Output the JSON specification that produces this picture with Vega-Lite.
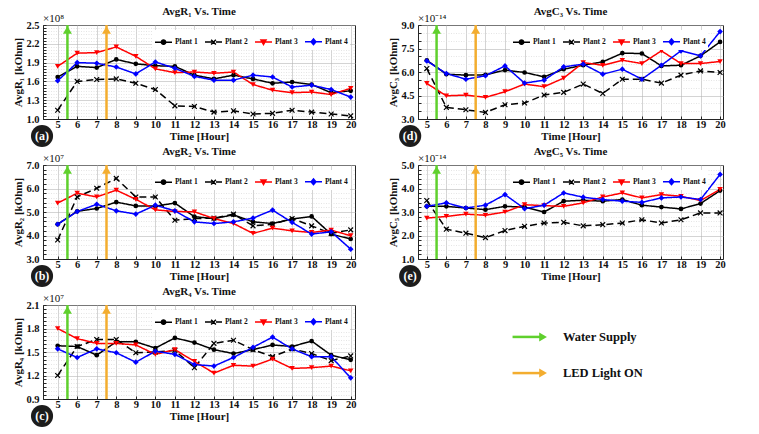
{
  "$schema": "https://vega.github.io/schema/vega-lite/v6.json",
  "background": "white",
  "padding": {"left": 12, "top": 5, "right": 5, "bottom": 3},
  "datasets": {
    "events": [{"event": "Water Supply", "hour": 5.5}, {"event": "LED Light ON", "hour": 7.5}],
    "a": [
      {"hour": 5, "Plant 1": 1.67, "Plant 2": 1.14, "Plant 3": 1.84, "Plant 4": 1.61},
      {"hour": 6, "Plant 1": 1.84, "Plant 2": 1.60, "Plant 3": 2.05, "Plant 4": 1.90},
      {"hour": 7, "Plant 1": 1.82, "Plant 2": 1.63, "Plant 3": 2.06, "Plant 4": 1.89},
      {"hour": 8, "Plant 1": 1.95, "Plant 2": 1.64, "Plant 3": 2.15, "Plant 4": 1.83},
      {"hour": 9, "Plant 1": 1.88, "Plant 2": 1.57, "Plant 3": 2.00, "Plant 4": 1.72},
      {"hour": 10, "Plant 1": 1.85, "Plant 2": 1.47, "Plant 3": 1.80, "Plant 4": 1.91},
      {"hour": 11, "Plant 1": 1.84, "Plant 2": 1.21, "Plant 3": 1.74, "Plant 4": 1.81},
      {"hour": 12, "Plant 1": 1.70, "Plant 2": 1.20, "Plant 3": 1.75, "Plant 4": 1.68},
      {"hour": 13, "Plant 1": 1.64, "Plant 2": 1.11, "Plant 3": 1.73, "Plant 4": 1.62},
      {"hour": 14, "Plant 1": 1.70, "Plant 2": 1.13, "Plant 3": 1.75, "Plant 4": 1.62},
      {"hour": 15, "Plant 1": 1.64, "Plant 2": 1.08, "Plant 3": 1.55, "Plant 4": 1.70},
      {"hour": 16, "Plant 1": 1.57, "Plant 2": 1.09, "Plant 3": 1.46, "Plant 4": 1.67},
      {"hour": 17, "Plant 1": 1.59, "Plant 2": 1.14, "Plant 3": 1.42, "Plant 4": 1.51},
      {"hour": 18, "Plant 1": 1.55, "Plant 2": 1.11, "Plant 3": 1.43, "Plant 4": 1.54},
      {"hour": 19, "Plant 1": 1.42, "Plant 2": 1.08, "Plant 3": 1.39, "Plant 4": 1.47},
      {"hour": 20, "Plant 1": 1.45, "Plant 2": 1.05, "Plant 3": 1.49, "Plant 4": 1.35}
    ],
    "b": [
      {"hour": 5, "Plant 1": 4.48, "Plant 2": 3.81, "Plant 3": 5.38, "Plant 4": 4.48},
      {"hour": 6, "Plant 1": 5.03, "Plant 2": 5.64, "Plant 3": 5.80, "Plant 4": 5.02},
      {"hour": 7, "Plant 1": 5.15, "Plant 2": 6.01, "Plant 3": 5.64, "Plant 4": 5.33},
      {"hour": 8, "Plant 1": 5.42, "Plant 2": 6.43, "Plant 3": 5.93, "Plant 4": 5.05},
      {"hour": 9, "Plant 1": 5.26, "Plant 2": 5.64, "Plant 3": 5.54, "Plant 4": 4.91},
      {"hour": 10, "Plant 1": 5.25, "Plant 2": 5.64, "Plant 3": 5.09, "Plant 4": 5.29},
      {"hour": 11, "Plant 1": 5.38, "Plant 2": 4.65, "Plant 3": 5.02, "Plant 4": 5.05},
      {"hour": 12, "Plant 1": 4.80, "Plant 2": 4.72, "Plant 3": 5.01, "Plant 4": 4.58},
      {"hour": 13, "Plant 1": 4.72, "Plant 2": 4.74, "Plant 3": 4.72, "Plant 4": 4.51},
      {"hour": 14, "Plant 1": 4.88, "Plant 2": 4.91, "Plant 3": 4.51, "Plant 4": 4.58},
      {"hour": 15, "Plant 1": 4.58, "Plant 2": 4.41, "Plant 3": 4.09, "Plant 4": 4.74},
      {"hour": 16, "Plant 1": 4.51, "Plant 2": 4.48, "Plant 3": 4.31, "Plant 4": 5.08},
      {"hour": 17, "Plant 1": 4.70, "Plant 2": 4.72, "Plant 3": 4.20, "Plant 4": 4.56},
      {"hour": 18, "Plant 1": 4.81, "Plant 2": 4.41, "Plant 3": 4.13, "Plant 4": 4.06},
      {"hour": 19, "Plant 1": 4.06, "Plant 2": 4.09, "Plant 3": 4.23, "Plant 4": 4.16},
      {"hour": 20, "Plant 1": 3.85, "Plant 2": 4.24, "Plant 3": 3.99, "Plant 4": 3.42}
    ],
    "c": [
      {"hour": 5, "Plant 1": 1.58, "Plant 2": 1.20, "Plant 3": 1.80, "Plant 4": 1.54},
      {"hour": 6, "Plant 1": 1.57, "Plant 2": 1.57, "Plant 3": 1.67, "Plant 4": 1.43},
      {"hour": 7, "Plant 1": 1.46, "Plant 2": 1.66, "Plant 3": 1.61, "Plant 4": 1.54},
      {"hour": 8, "Plant 1": 1.63, "Plant 2": 1.66, "Plant 3": 1.61, "Plant 4": 1.49},
      {"hour": 9, "Plant 1": 1.63, "Plant 2": 1.49, "Plant 3": 1.59, "Plant 4": 1.37},
      {"hour": 10, "Plant 1": 1.55, "Plant 2": 1.50, "Plant 3": 1.47, "Plant 4": 1.51},
      {"hour": 11, "Plant 1": 1.68, "Plant 2": 1.52, "Plant 3": 1.53, "Plant 4": 1.47},
      {"hour": 12, "Plant 1": 1.62, "Plant 2": 1.30, "Plant 3": 1.38, "Plant 4": 1.34},
      {"hour": 13, "Plant 1": 1.53, "Plant 2": 1.61, "Plant 3": 1.23, "Plant 4": 1.32},
      {"hour": 14, "Plant 1": 1.48, "Plant 2": 1.65, "Plant 3": 1.33, "Plant 4": 1.43},
      {"hour": 15, "Plant 1": 1.53, "Plant 2": 1.53, "Plant 3": 1.32, "Plant 4": 1.56},
      {"hour": 16, "Plant 1": 1.59, "Plant 2": 1.44, "Plant 3": 1.41, "Plant 4": 1.69},
      {"hour": 17, "Plant 1": 1.57, "Plant 2": 1.54, "Plant 3": 1.29, "Plant 4": 1.54},
      {"hour": 18, "Plant 1": 1.64, "Plant 2": 1.48, "Plant 3": 1.30, "Plant 4": 1.44},
      {"hour": 19, "Plant 1": 1.46, "Plant 2": 1.39, "Plant 3": 1.32, "Plant 4": 1.44},
      {"hour": 20, "Plant 1": 1.40, "Plant 2": 1.45, "Plant 3": 1.26, "Plant 4": 1.17}
    ],
    "d": [
      {"hour": 5, "Plant 1": 6.75, "Plant 2": 6.22, "Plant 3": 5.27, "Plant 4": 6.71},
      {"hour": 6, "Plant 1": 5.86, "Plant 2": 3.74, "Plant 3": 4.48, "Plant 4": 5.90},
      {"hour": 7, "Plant 1": 5.80, "Plant 2": 3.59, "Plant 3": 4.53, "Plant 4": 5.54},
      {"hour": 8, "Plant 1": 5.82, "Plant 2": 3.42, "Plant 3": 4.38, "Plant 4": 5.76},
      {"hour": 9, "Plant 1": 6.12, "Plant 2": 3.91, "Plant 3": 4.74, "Plant 4": 6.39},
      {"hour": 10, "Plant 1": 5.97, "Plant 2": 4.02, "Plant 3": 5.23, "Plant 4": 5.29},
      {"hour": 11, "Plant 1": 5.69, "Plant 2": 4.53, "Plant 3": 5.06, "Plant 4": 5.48},
      {"hour": 12, "Plant 1": 6.18, "Plant 2": 4.70, "Plant 3": 5.61, "Plant 4": 6.33},
      {"hour": 13, "Plant 1": 6.43, "Plant 2": 5.23, "Plant 3": 6.60, "Plant 4": 6.50},
      {"hour": 14, "Plant 1": 6.65, "Plant 2": 4.63, "Plant 3": 6.43, "Plant 4": 5.86},
      {"hour": 15, "Plant 1": 7.20, "Plant 2": 5.54, "Plant 3": 6.75, "Plant 4": 6.18},
      {"hour": 16, "Plant 1": 7.18, "Plant 2": 5.54, "Plant 3": 6.54, "Plant 4": 5.54},
      {"hour": 17, "Plant 1": 6.39, "Plant 2": 5.29, "Plant 3": 7.35, "Plant 4": 6.43},
      {"hour": 18, "Plant 1": 6.43, "Plant 2": 5.80, "Plant 3": 6.54, "Plant 4": 7.35},
      {"hour": 19, "Plant 1": 7.03, "Plant 2": 6.07, "Plant 3": 6.54, "Plant 4": 7.03},
      {"hour": 20, "Plant 1": 7.92, "Plant 2": 5.97, "Plant 3": 6.67, "Plant 4": 8.58}
    ],
    "e": [
      {"hour": 5, "Plant 1": 3.24, "Plant 2": 3.49, "Plant 3": 2.74, "Plant 4": 3.24},
      {"hour": 6, "Plant 1": 3.24, "Plant 2": 2.27, "Plant 3": 2.81, "Plant 4": 3.39},
      {"hour": 7, "Plant 1": 3.17, "Plant 2": 2.10, "Plant 3": 2.91, "Plant 4": 3.17},
      {"hour": 8, "Plant 1": 3.10, "Plant 2": 1.91, "Plant 3": 2.86, "Plant 4": 3.29},
      {"hour": 9, "Plant 1": 3.24, "Plant 2": 2.21, "Plant 3": 3.00, "Plant 4": 3.74},
      {"hour": 10, "Plant 1": 3.21, "Plant 2": 2.39, "Plant 3": 3.31, "Plant 4": 3.14},
      {"hour": 11, "Plant 1": 3.00, "Plant 2": 2.53, "Plant 3": 3.27, "Plant 4": 3.29},
      {"hour": 12, "Plant 1": 3.46, "Plant 2": 2.56, "Plant 3": 3.24, "Plant 4": 3.81},
      {"hour": 13, "Plant 1": 3.50, "Plant 2": 2.41, "Plant 3": 3.39, "Plant 4": 3.63},
      {"hour": 14, "Plant 1": 3.46, "Plant 2": 2.46, "Plant 3": 3.64, "Plant 4": 3.53},
      {"hour": 15, "Plant 1": 3.53, "Plant 2": 2.53, "Plant 3": 3.81, "Plant 4": 3.46},
      {"hour": 16, "Plant 1": 3.29, "Plant 2": 2.67, "Plant 3": 3.60, "Plant 4": 3.41},
      {"hour": 17, "Plant 1": 3.21, "Plant 2": 2.53, "Plant 3": 3.74, "Plant 4": 3.60},
      {"hour": 18, "Plant 1": 3.13, "Plant 2": 2.67, "Plant 3": 3.67, "Plant 4": 3.64},
      {"hour": 19, "Plant 1": 3.36, "Plant 2": 2.96, "Plant 3": 3.49, "Plant 4": 3.53},
      {"hour": 20, "Plant 1": 3.91, "Plant 2": 2.96, "Plant 3": 3.96, "Plant 4": 4.60}
    ]
  },
  "columns": 2,
  "spacing": {"row": -3, "column": 30},
  "concat": [
    {
      "width": 312, "height": 94,
      "title": {"text": "AvgR₁ Vs. Time"},
      "layer": [
        {"data": {"name": "a"}, "transform": [{"fold": ["Plant 1", "Plant 2", "Plant 3", "Plant 4"], "as": ["plant", "value"]}],
         "mark": {"type": "line", "strokeWidth": 1.5},
         "encoding": {
           "x": {"field": "hour", "type": "quantitative", "title": "Time [Hour]", "scale": {"domain": [4.25, 20.22], "nice": false, "zero": false},
                 "axis": {"tickCount": 80, "format": "d", "labelExpr": "datum.value % 1 === 0 ? datum.label : ''",
                          "gridColor": {"condition": {"test": "datum.value % 1 === 0", "value": "#b5b5b5"}, "value": "#dadada"},
                          "gridDash": {"condition": {"test": "datum.value % 1 === 0", "value": [1, 0]}, "value": [1, 1.5]}}},
           "y": {"field": "value", "type": "quantitative", "title": "AvgR₁ [kOhm]", "scale": {"domain": [1.0, 2.5], "nice": false, "zero": false},
                 "axis": {"tickCount": 30, "format": ".1f", "labelExpr": "round(datum.value*100) % 30 === 10 ? datum.label : ''",
                          "gridColor": {"condition": {"test": "round(datum.value*100) % 30 === 10", "value": "#b5b5b5"}, "value": "#dadada"},
                          "gridDash": {"condition": {"test": "round(datum.value*100) % 30 === 10", "value": [1, 0]}, "value": [1, 1.5]}}},
           "stroke": {"field": "plant", "type": "nominal", "scale": {"domain": ["Plant 1", "Plant 2", "Plant 3", "Plant 4"], "range": ["#000000", "#000000", "#ff0000", "#0000ff"]},
                      "legend": {"title": null, "orient": "top-right", "offset": 5, "encode": {"symbols": {"update": {
                        "shape": {"signal": "datum.value === 'Plant 1' ? 'M-1,0L1,0M-0.25,0A0.25,0.25,0,1,1,0.25,0A0.25,0.25,0,1,1,-0.25,0Z' : datum.value === 'Plant 2' ? 'M-1,0L1,0M-0.28,-0.28L0.28,0.28M-0.28,0.28L0.28,-0.28' : datum.value === 'Plant 3' ? 'M-1,0L1,0M-0.3,-0.24L0.3,-0.24L0,0.3Z' : 'M-1,0L1,0M0,-0.34L0.28,0L0,0.34L-0.28,0Z'"},
                        "fill": {"signal": "datum.value === 'Plant 3' ? '#ff0000' : datum.value === 'Plant 4' ? '#0000ff' : '#000000'"}}}}}},
           "strokeDash": {"field": "plant", "type": "nominal", "scale": {"domain": ["Plant 1", "Plant 2", "Plant 3", "Plant 4"], "range": [[1, 0], [7, 4], [1, 0], [1, 0]]},
                      "legend": {"title": null, "orient": "top-right", "offset": 5}}
         }},
        {"data": {"name": "a"}, "mark": {"type": "point", "shape": "circle", "filled": true, "size": 22, "color": "#000000", "opacity": 1},
         "encoding": {"x": {"field": "hour", "type": "quantitative", "title": "Time [Hour]"}, "y": {"field": "Plant 1", "type": "quantitative", "title": "AvgR₁ [kOhm]"}}},
        {"data": {"name": "a"}, "mark": {"type": "point", "shape": "M-1,-0.7L-0.7,-1L0,-0.3L0.7,-1L1,-0.7L0.3,0L1,0.7L0.7,1L0,0.3L-0.7,1L-1,0.7L-0.3,0Z", "filled": true, "size": 32, "color": "#000000", "opacity": 1},
         "encoding": {"x": {"field": "hour", "type": "quantitative", "title": "Time [Hour]"}, "y": {"field": "Plant 2", "type": "quantitative", "title": "AvgR₁ [kOhm]"}}},
        {"data": {"name": "a"}, "mark": {"type": "point", "shape": "triangle-down", "filled": true, "size": 30, "color": "#ff0000", "opacity": 1},
         "encoding": {"x": {"field": "hour", "type": "quantitative", "title": "Time [Hour]"}, "y": {"field": "Plant 3", "type": "quantitative", "title": "AvgR₁ [kOhm]"}}},
        {"data": {"name": "a"}, "mark": {"type": "point", "shape": "diamond", "filled": true, "size": 32, "color": "#0000ff", "opacity": 1},
         "encoding": {"x": {"field": "hour", "type": "quantitative", "title": "Time [Hour]"}, "y": {"field": "Plant 4", "type": "quantitative", "title": "AvgR₁ [kOhm]"}}},
        {"data": {"name": "events"}, "mark": {"type": "rule", "strokeWidth": 2.5},
         "encoding": {"x": {"field": "hour", "type": "quantitative", "title": "Time [Hour]"},
                      "color": {"field": "event", "type": "nominal", "scale": {"domain": ["Water Supply", "LED Light ON"], "range": ["#5fd02d", "#f3ad2f"]}, "legend": null}}},
        {"data": {"name": "events"}, "mark": {"type": "point", "shape": "triangle-up", "filled": true, "size": 80, "opacity": 1, "yOffset": 5},
         "encoding": {"x": {"field": "hour", "type": "quantitative", "title": "Time [Hour]"}, "y": {"datum": 2.5},
                      "color": {"field": "event", "type": "nominal", "legend": null}}},
        {"data": {"values": [{"label": "×10⁸"}]}, "mark": {"type": "text", "align": "left", "baseline": "bottom", "dy": -1, "fontSize": 11, "color": "#111"},
         "encoding": {"x": {"datum": 4.25}, "y": {"datum": 2.5}, "text": {"field": "label"}}},
        {"data": {"values": [{"label": "(a)"}]}, "mark": {"type": "point", "shape": "circle", "filled": true, "size": 490, "opacity": 1, "color": "#1c1c1c", "yOffset": 17},
         "encoding": {"x": {"datum": 4.2}, "y": {"datum": 1.0}}},
        {"data": {"values": [{"label": "(a)"}]}, "mark": {"type": "text", "color": "white", "fontSize": 12, "fontWeight": "bold", "baseline": "middle", "dy": 17},
         "encoding": {"x": {"datum": 4.2}, "y": {"datum": 1.0}, "text": {"field": "label"}}}
      ]
    },
    {
      "width": 305, "height": 94,
      "title": {"text": "AvgC₃ Vs. Time"},
      "layer": [
        {"data": {"name": "d"}, "transform": [{"fold": ["Plant 1", "Plant 2", "Plant 3", "Plant 4"], "as": ["plant", "value"]}],
         "mark": {"type": "line", "strokeWidth": 1.5},
         "encoding": {
           "x": {"field": "hour", "type": "quantitative", "title": "Time [Hour]", "scale": {"domain": [4.55, 20.15], "nice": false, "zero": false},
                 "axis": {"tickCount": 80, "format": "d", "labelExpr": "datum.value % 1 === 0 ? datum.label : ''",
                          "gridColor": {"condition": {"test": "datum.value % 1 === 0", "value": "#b5b5b5"}, "value": "#dadada"},
                          "gridDash": {"condition": {"test": "datum.value % 1 === 0", "value": [1, 0]}, "value": [1, 1.5]}}},
           "y": {"field": "value", "type": "quantitative", "title": "AvgC₃ [kOhm]", "scale": {"domain": [3.0, 9.0], "nice": false, "zero": false},
                 "axis": {"tickCount": 12, "format": ".1f", "labelExpr": "round(datum.value*10) % 15 === 0 ? datum.label : ''",
                          "gridColor": {"condition": {"test": "round(datum.value*10) % 15 === 0", "value": "#b5b5b5"}, "value": "#dadada"},
                          "gridDash": {"condition": {"test": "round(datum.value*10) % 15 === 0", "value": [1, 0]}, "value": [1, 1.5]}}},
           "stroke": {"field": "plant", "type": "nominal", "scale": {"domain": ["Plant 1", "Plant 2", "Plant 3", "Plant 4"], "range": ["#000000", "#000000", "#ff0000", "#0000ff"]},
                      "legend": {"title": null, "orient": "none", "legendX": 92, "legendY": 5, "encode": {"symbols": {"update": {
                        "shape": {"signal": "datum.value === 'Plant 1' ? 'M-1,0L1,0M-0.25,0A0.25,0.25,0,1,1,0.25,0A0.25,0.25,0,1,1,-0.25,0Z' : datum.value === 'Plant 2' ? 'M-1,0L1,0M-0.28,-0.28L0.28,0.28M-0.28,0.28L0.28,-0.28' : datum.value === 'Plant 3' ? 'M-1,0L1,0M-0.3,-0.24L0.3,-0.24L0,0.3Z' : 'M-1,0L1,0M0,-0.34L0.28,0L0,0.34L-0.28,0Z'"},
                        "fill": {"signal": "datum.value === 'Plant 3' ? '#ff0000' : datum.value === 'Plant 4' ? '#0000ff' : '#000000'"}}}}}},
           "strokeDash": {"field": "plant", "type": "nominal", "scale": {"domain": ["Plant 1", "Plant 2", "Plant 3", "Plant 4"], "range": [[1, 0], [7, 4], [1, 0], [1, 0]]},
                      "legend": {"title": null, "orient": "none", "legendX": 92, "legendY": 5}}
         }},
        {"data": {"name": "d"}, "mark": {"type": "point", "shape": "circle", "filled": true, "size": 22, "color": "#000000", "opacity": 1},
         "encoding": {"x": {"field": "hour", "type": "quantitative", "title": "Time [Hour]"}, "y": {"field": "Plant 1", "type": "quantitative", "title": "AvgC₃ [kOhm]"}}},
        {"data": {"name": "d"}, "mark": {"type": "point", "shape": "M-1,-0.7L-0.7,-1L0,-0.3L0.7,-1L1,-0.7L0.3,0L1,0.7L0.7,1L0,0.3L-0.7,1L-1,0.7L-0.3,0Z", "filled": true, "size": 32, "color": "#000000", "opacity": 1},
         "encoding": {"x": {"field": "hour", "type": "quantitative", "title": "Time [Hour]"}, "y": {"field": "Plant 2", "type": "quantitative", "title": "AvgC₃ [kOhm]"}}},
        {"data": {"name": "d"}, "mark": {"type": "point", "shape": "triangle-down", "filled": true, "size": 30, "color": "#ff0000", "opacity": 1},
         "encoding": {"x": {"field": "hour", "type": "quantitative", "title": "Time [Hour]"}, "y": {"field": "Plant 3", "type": "quantitative", "title": "AvgC₃ [kOhm]"}}},
        {"data": {"name": "d"}, "mark": {"type": "point", "shape": "diamond", "filled": true, "size": 32, "color": "#0000ff", "opacity": 1},
         "encoding": {"x": {"field": "hour", "type": "quantitative", "title": "Time [Hour]"}, "y": {"field": "Plant 4", "type": "quantitative", "title": "AvgC₃ [kOhm]"}}},
        {"data": {"name": "events"}, "mark": {"type": "rule", "strokeWidth": 2.5},
         "encoding": {"x": {"field": "hour", "type": "quantitative", "title": "Time [Hour]"},
                      "color": {"field": "event", "type": "nominal", "scale": {"domain": ["Water Supply", "LED Light ON"], "range": ["#5fd02d", "#f3ad2f"]}, "legend": null}}},
        {"data": {"name": "events"}, "mark": {"type": "point", "shape": "triangle-up", "filled": true, "size": 80, "opacity": 1, "yOffset": 5},
         "encoding": {"x": {"field": "hour", "type": "quantitative", "title": "Time [Hour]"}, "y": {"datum": 9.0},
                      "color": {"field": "event", "type": "nominal", "legend": null}}},
        {"data": {"values": [{"label": "×10⁻¹⁴"}]}, "mark": {"type": "text", "align": "left", "baseline": "bottom", "dy": -1, "fontSize": 11, "color": "#111"},
         "encoding": {"x": {"datum": 4.55}, "y": {"datum": 9.0}, "text": {"field": "label"}}},
        {"data": {"values": [{"label": "(d)"}]}, "mark": {"type": "point", "shape": "circle", "filled": true, "size": 490, "opacity": 1, "color": "#1c1c1c", "yOffset": 17},
         "encoding": {"x": {"datum": 4.15}, "y": {"datum": 3.0}}},
        {"data": {"values": [{"label": "(d)"}]}, "mark": {"type": "text", "color": "white", "fontSize": 12, "fontWeight": "bold", "baseline": "middle", "dy": 17},
         "encoding": {"x": {"datum": 4.15}, "y": {"datum": 3.0}, "text": {"field": "label"}}}
      ]
    },
    {
      "width": 312, "height": 94,
      "title": {"text": "AvgR₂ Vs. Time"},
      "layer": [
        {"data": {"name": "b"}, "transform": [{"fold": ["Plant 1", "Plant 2", "Plant 3", "Plant 4"], "as": ["plant", "value"]}],
         "mark": {"type": "line", "strokeWidth": 1.5},
         "encoding": {
           "x": {"field": "hour", "type": "quantitative", "title": "Time [Hour]", "scale": {"domain": [4.25, 20.22], "nice": false, "zero": false},
                 "axis": {"tickCount": 80, "format": "d", "labelExpr": "datum.value % 1 === 0 ? datum.label : ''",
                          "gridColor": {"condition": {"test": "datum.value % 1 === 0", "value": "#b5b5b5"}, "value": "#dadada"},
                          "gridDash": {"condition": {"test": "datum.value % 1 === 0", "value": [1, 0]}, "value": [1, 1.5]}}},
           "y": {"field": "value", "type": "quantitative", "title": "AvgR₂ [kOhm]", "scale": {"domain": [3.0, 7.0], "nice": false, "zero": false},
                 "axis": {"tickCount": 20, "format": ".1f", "labelExpr": "round(datum.value*10) % 10 === 0 ? datum.label : ''",
                          "gridColor": {"condition": {"test": "round(datum.value*10) % 10 === 0", "value": "#b5b5b5"}, "value": "#dadada"},
                          "gridDash": {"condition": {"test": "round(datum.value*10) % 10 === 0", "value": [1, 0]}, "value": [1, 1.5]}}},
           "stroke": {"field": "plant", "type": "nominal", "scale": {"domain": ["Plant 1", "Plant 2", "Plant 3", "Plant 4"], "range": ["#000000", "#000000", "#ff0000", "#0000ff"]},
                      "legend": {"title": null, "orient": "top-right", "offset": 5, "encode": {"symbols": {"update": {
                        "shape": {"signal": "datum.value === 'Plant 1' ? 'M-1,0L1,0M-0.25,0A0.25,0.25,0,1,1,0.25,0A0.25,0.25,0,1,1,-0.25,0Z' : datum.value === 'Plant 2' ? 'M-1,0L1,0M-0.28,-0.28L0.28,0.28M-0.28,0.28L0.28,-0.28' : datum.value === 'Plant 3' ? 'M-1,0L1,0M-0.3,-0.24L0.3,-0.24L0,0.3Z' : 'M-1,0L1,0M0,-0.34L0.28,0L0,0.34L-0.28,0Z'"},
                        "fill": {"signal": "datum.value === 'Plant 3' ? '#ff0000' : datum.value === 'Plant 4' ? '#0000ff' : '#000000'"}}}}}},
           "strokeDash": {"field": "plant", "type": "nominal", "scale": {"domain": ["Plant 1", "Plant 2", "Plant 3", "Plant 4"], "range": [[1, 0], [7, 4], [1, 0], [1, 0]]},
                      "legend": {"title": null, "orient": "top-right", "offset": 5}}
         }},
        {"data": {"name": "b"}, "mark": {"type": "point", "shape": "circle", "filled": true, "size": 22, "color": "#000000", "opacity": 1},
         "encoding": {"x": {"field": "hour", "type": "quantitative", "title": "Time [Hour]"}, "y": {"field": "Plant 1", "type": "quantitative", "title": "AvgR₂ [kOhm]"}}},
        {"data": {"name": "b"}, "mark": {"type": "point", "shape": "M-1,-0.7L-0.7,-1L0,-0.3L0.7,-1L1,-0.7L0.3,0L1,0.7L0.7,1L0,0.3L-0.7,1L-1,0.7L-0.3,0Z", "filled": true, "size": 32, "color": "#000000", "opacity": 1},
         "encoding": {"x": {"field": "hour", "type": "quantitative", "title": "Time [Hour]"}, "y": {"field": "Plant 2", "type": "quantitative", "title": "AvgR₂ [kOhm]"}}},
        {"data": {"name": "b"}, "mark": {"type": "point", "shape": "triangle-down", "filled": true, "size": 30, "color": "#ff0000", "opacity": 1},
         "encoding": {"x": {"field": "hour", "type": "quantitative", "title": "Time [Hour]"}, "y": {"field": "Plant 3", "type": "quantitative", "title": "AvgR₂ [kOhm]"}}},
        {"data": {"name": "b"}, "mark": {"type": "point", "shape": "diamond", "filled": true, "size": 32, "color": "#0000ff", "opacity": 1},
         "encoding": {"x": {"field": "hour", "type": "quantitative", "title": "Time [Hour]"}, "y": {"field": "Plant 4", "type": "quantitative", "title": "AvgR₂ [kOhm]"}}},
        {"data": {"name": "events"}, "mark": {"type": "rule", "strokeWidth": 2.5},
         "encoding": {"x": {"field": "hour", "type": "quantitative", "title": "Time [Hour]"},
                      "color": {"field": "event", "type": "nominal", "scale": {"domain": ["Water Supply", "LED Light ON"], "range": ["#5fd02d", "#f3ad2f"]}, "legend": null}}},
        {"data": {"name": "events"}, "mark": {"type": "point", "shape": "triangle-up", "filled": true, "size": 80, "opacity": 1, "yOffset": 5},
         "encoding": {"x": {"field": "hour", "type": "quantitative", "title": "Time [Hour]"}, "y": {"datum": 7.0},
                      "color": {"field": "event", "type": "nominal", "legend": null}}},
        {"data": {"values": [{"label": "×10⁷"}]}, "mark": {"type": "text", "align": "left", "baseline": "bottom", "dy": -1, "fontSize": 11, "color": "#111"},
         "encoding": {"x": {"datum": 4.25}, "y": {"datum": 7.0}, "text": {"field": "label"}}},
        {"data": {"values": [{"label": "(b)"}]}, "mark": {"type": "point", "shape": "circle", "filled": true, "size": 490, "opacity": 1, "color": "#1c1c1c", "yOffset": 17},
         "encoding": {"x": {"datum": 4.2}, "y": {"datum": 3.0}}},
        {"data": {"values": [{"label": "(b)"}]}, "mark": {"type": "text", "color": "white", "fontSize": 12, "fontWeight": "bold", "baseline": "middle", "dy": 17},
         "encoding": {"x": {"datum": 4.2}, "y": {"datum": 3.0}, "text": {"field": "label"}}}
      ]
    },
    {
      "width": 305, "height": 94,
      "title": {"text": "AvgC₅ Vs. Time"},
      "layer": [
        {"data": {"name": "e"}, "transform": [{"fold": ["Plant 1", "Plant 2", "Plant 3", "Plant 4"], "as": ["plant", "value"]}],
         "mark": {"type": "line", "strokeWidth": 1.5},
         "encoding": {
           "x": {"field": "hour", "type": "quantitative", "title": "Time [Hour]", "scale": {"domain": [4.55, 20.15], "nice": false, "zero": false},
                 "axis": {"tickCount": 80, "format": "d", "labelExpr": "datum.value % 1 === 0 ? datum.label : ''",
                          "gridColor": {"condition": {"test": "datum.value % 1 === 0", "value": "#b5b5b5"}, "value": "#dadada"},
                          "gridDash": {"condition": {"test": "datum.value % 1 === 0", "value": [1, 0]}, "value": [1, 1.5]}}},
           "y": {"field": "value", "type": "quantitative", "title": "AvgC₅ [kOhm]", "scale": {"domain": [1.0, 5.0], "nice": false, "zero": false},
                 "axis": {"tickCount": 20, "format": ".1f", "labelExpr": "round(datum.value*10) % 10 === 0 ? datum.label : ''",
                          "gridColor": {"condition": {"test": "round(datum.value*10) % 10 === 0", "value": "#b5b5b5"}, "value": "#dadada"},
                          "gridDash": {"condition": {"test": "round(datum.value*10) % 10 === 0", "value": [1, 0]}, "value": [1, 1.5]}}},
           "stroke": {"field": "plant", "type": "nominal", "scale": {"domain": ["Plant 1", "Plant 2", "Plant 3", "Plant 4"], "range": ["#000000", "#000000", "#ff0000", "#0000ff"]},
                      "legend": {"title": null, "orient": "none", "legendX": 92, "legendY": 5, "encode": {"symbols": {"update": {
                        "shape": {"signal": "datum.value === 'Plant 1' ? 'M-1,0L1,0M-0.25,0A0.25,0.25,0,1,1,0.25,0A0.25,0.25,0,1,1,-0.25,0Z' : datum.value === 'Plant 2' ? 'M-1,0L1,0M-0.28,-0.28L0.28,0.28M-0.28,0.28L0.28,-0.28' : datum.value === 'Plant 3' ? 'M-1,0L1,0M-0.3,-0.24L0.3,-0.24L0,0.3Z' : 'M-1,0L1,0M0,-0.34L0.28,0L0,0.34L-0.28,0Z'"},
                        "fill": {"signal": "datum.value === 'Plant 3' ? '#ff0000' : datum.value === 'Plant 4' ? '#0000ff' : '#000000'"}}}}}},
           "strokeDash": {"field": "plant", "type": "nominal", "scale": {"domain": ["Plant 1", "Plant 2", "Plant 3", "Plant 4"], "range": [[1, 0], [7, 4], [1, 0], [1, 0]]},
                      "legend": {"title": null, "orient": "none", "legendX": 92, "legendY": 5}}
         }},
        {"data": {"name": "e"}, "mark": {"type": "point", "shape": "circle", "filled": true, "size": 22, "color": "#000000", "opacity": 1},
         "encoding": {"x": {"field": "hour", "type": "quantitative", "title": "Time [Hour]"}, "y": {"field": "Plant 1", "type": "quantitative", "title": "AvgC₅ [kOhm]"}}},
        {"data": {"name": "e"}, "mark": {"type": "point", "shape": "M-1,-0.7L-0.7,-1L0,-0.3L0.7,-1L1,-0.7L0.3,0L1,0.7L0.7,1L0,0.3L-0.7,1L-1,0.7L-0.3,0Z", "filled": true, "size": 32, "color": "#000000", "opacity": 1},
         "encoding": {"x": {"field": "hour", "type": "quantitative", "title": "Time [Hour]"}, "y": {"field": "Plant 2", "type": "quantitative", "title": "AvgC₅ [kOhm]"}}},
        {"data": {"name": "e"}, "mark": {"type": "point", "shape": "triangle-down", "filled": true, "size": 30, "color": "#ff0000", "opacity": 1},
         "encoding": {"x": {"field": "hour", "type": "quantitative", "title": "Time [Hour]"}, "y": {"field": "Plant 3", "type": "quantitative", "title": "AvgC₅ [kOhm]"}}},
        {"data": {"name": "e"}, "mark": {"type": "point", "shape": "diamond", "filled": true, "size": 32, "color": "#0000ff", "opacity": 1},
         "encoding": {"x": {"field": "hour", "type": "quantitative", "title": "Time [Hour]"}, "y": {"field": "Plant 4", "type": "quantitative", "title": "AvgC₅ [kOhm]"}}},
        {"data": {"name": "events"}, "mark": {"type": "rule", "strokeWidth": 2.5},
         "encoding": {"x": {"field": "hour", "type": "quantitative", "title": "Time [Hour]"},
                      "color": {"field": "event", "type": "nominal", "scale": {"domain": ["Water Supply", "LED Light ON"], "range": ["#5fd02d", "#f3ad2f"]}, "legend": null}}},
        {"data": {"name": "events"}, "mark": {"type": "point", "shape": "triangle-up", "filled": true, "size": 80, "opacity": 1, "yOffset": 5},
         "encoding": {"x": {"field": "hour", "type": "quantitative", "title": "Time [Hour]"}, "y": {"datum": 5.0},
                      "color": {"field": "event", "type": "nominal", "legend": null}}},
        {"data": {"values": [{"label": "×10⁻¹⁴"}]}, "mark": {"type": "text", "align": "left", "baseline": "bottom", "dy": -1, "fontSize": 11, "color": "#111"},
         "encoding": {"x": {"datum": 4.55}, "y": {"datum": 5.0}, "text": {"field": "label"}}},
        {"data": {"values": [{"label": "(e)"}]}, "mark": {"type": "point", "shape": "circle", "filled": true, "size": 490, "opacity": 1, "color": "#1c1c1c", "yOffset": 17},
         "encoding": {"x": {"datum": 4.15}, "y": {"datum": 1.0}}},
        {"data": {"values": [{"label": "(e)"}]}, "mark": {"type": "text", "color": "white", "fontSize": 12, "fontWeight": "bold", "baseline": "middle", "dy": 17},
         "encoding": {"x": {"datum": 4.15}, "y": {"datum": 1.0}, "text": {"field": "label"}}}
      ]
    },
    {
      "width": 312, "height": 94,
      "title": {"text": "AvgR₄ Vs. Time"},
      "layer": [
        {"data": {"name": "c"}, "transform": [{"fold": ["Plant 1", "Plant 2", "Plant 3", "Plant 4"], "as": ["plant", "value"]}],
         "mark": {"type": "line", "strokeWidth": 1.5},
         "encoding": {
           "x": {"field": "hour", "type": "quantitative", "title": "Time [Hour]", "scale": {"domain": [4.25, 20.22], "nice": false, "zero": false},
                 "axis": {"tickCount": 80, "format": "d", "labelExpr": "datum.value % 1 === 0 ? datum.label : ''",
                          "gridColor": {"condition": {"test": "datum.value % 1 === 0", "value": "#b5b5b5"}, "value": "#dadada"},
                          "gridDash": {"condition": {"test": "datum.value % 1 === 0", "value": [1, 0]}, "value": [1, 1.5]}}},
           "y": {"field": "value", "type": "quantitative", "title": "AvgR₄ [kOhm]", "scale": {"domain": [0.9, 2.1], "nice": false, "zero": false},
                 "axis": {"tickCount": 24, "format": ".1f", "labelExpr": "round(datum.value*100) % 30 === 0 ? datum.label : ''",
                          "gridColor": {"condition": {"test": "round(datum.value*100) % 30 === 0", "value": "#b5b5b5"}, "value": "#dadada"},
                          "gridDash": {"condition": {"test": "round(datum.value*100) % 30 === 0", "value": [1, 0]}, "value": [1, 1.5]}}},
           "stroke": {"field": "plant", "type": "nominal", "scale": {"domain": ["Plant 1", "Plant 2", "Plant 3", "Plant 4"], "range": ["#000000", "#000000", "#ff0000", "#0000ff"]},
                      "legend": {"title": null, "orient": "top-right", "offset": 5, "encode": {"symbols": {"update": {
                        "shape": {"signal": "datum.value === 'Plant 1' ? 'M-1,0L1,0M-0.25,0A0.25,0.25,0,1,1,0.25,0A0.25,0.25,0,1,1,-0.25,0Z' : datum.value === 'Plant 2' ? 'M-1,0L1,0M-0.28,-0.28L0.28,0.28M-0.28,0.28L0.28,-0.28' : datum.value === 'Plant 3' ? 'M-1,0L1,0M-0.3,-0.24L0.3,-0.24L0,0.3Z' : 'M-1,0L1,0M0,-0.34L0.28,0L0,0.34L-0.28,0Z'"},
                        "fill": {"signal": "datum.value === 'Plant 3' ? '#ff0000' : datum.value === 'Plant 4' ? '#0000ff' : '#000000'"}}}}}},
           "strokeDash": {"field": "plant", "type": "nominal", "scale": {"domain": ["Plant 1", "Plant 2", "Plant 3", "Plant 4"], "range": [[1, 0], [7, 4], [1, 0], [1, 0]]},
                      "legend": {"title": null, "orient": "top-right", "offset": 5}}
         }},
        {"data": {"name": "c"}, "mark": {"type": "point", "shape": "circle", "filled": true, "size": 22, "color": "#000000", "opacity": 1},
         "encoding": {"x": {"field": "hour", "type": "quantitative", "title": "Time [Hour]"}, "y": {"field": "Plant 1", "type": "quantitative", "title": "AvgR₄ [kOhm]"}}},
        {"data": {"name": "c"}, "mark": {"type": "point", "shape": "M-1,-0.7L-0.7,-1L0,-0.3L0.7,-1L1,-0.7L0.3,0L1,0.7L0.7,1L0,0.3L-0.7,1L-1,0.7L-0.3,0Z", "filled": true, "size": 32, "color": "#000000", "opacity": 1},
         "encoding": {"x": {"field": "hour", "type": "quantitative", "title": "Time [Hour]"}, "y": {"field": "Plant 2", "type": "quantitative", "title": "AvgR₄ [kOhm]"}}},
        {"data": {"name": "c"}, "mark": {"type": "point", "shape": "triangle-down", "filled": true, "size": 30, "color": "#ff0000", "opacity": 1},
         "encoding": {"x": {"field": "hour", "type": "quantitative", "title": "Time [Hour]"}, "y": {"field": "Plant 3", "type": "quantitative", "title": "AvgR₄ [kOhm]"}}},
        {"data": {"name": "c"}, "mark": {"type": "point", "shape": "diamond", "filled": true, "size": 32, "color": "#0000ff", "opacity": 1},
         "encoding": {"x": {"field": "hour", "type": "quantitative", "title": "Time [Hour]"}, "y": {"field": "Plant 4", "type": "quantitative", "title": "AvgR₄ [kOhm]"}}},
        {"data": {"name": "events"}, "mark": {"type": "rule", "strokeWidth": 2.5},
         "encoding": {"x": {"field": "hour", "type": "quantitative", "title": "Time [Hour]"},
                      "color": {"field": "event", "type": "nominal", "scale": {"domain": ["Water Supply", "LED Light ON"], "range": ["#5fd02d", "#f3ad2f"]}, "legend": null}}},
        {"data": {"name": "events"}, "mark": {"type": "point", "shape": "triangle-up", "filled": true, "size": 80, "opacity": 1, "yOffset": 5},
         "encoding": {"x": {"field": "hour", "type": "quantitative", "title": "Time [Hour]"}, "y": {"datum": 2.1},
                      "color": {"field": "event", "type": "nominal", "legend": null}}},
        {"data": {"values": [{"label": "×10⁷"}]}, "mark": {"type": "text", "align": "left", "baseline": "bottom", "dy": -1, "fontSize": 11, "color": "#111"},
         "encoding": {"x": {"datum": 4.25}, "y": {"datum": 2.1}, "text": {"field": "label"}}},
        {"data": {"values": [{"label": "(c)"}]}, "mark": {"type": "point", "shape": "circle", "filled": true, "size": 490, "opacity": 1, "color": "#1c1c1c", "yOffset": 17},
         "encoding": {"x": {"datum": 4.2}, "y": {"datum": 0.9}}},
        {"data": {"values": [{"label": "(c)"}]}, "mark": {"type": "text", "color": "white", "fontSize": 12, "fontWeight": "bold", "baseline": "middle", "dy": 17},
         "encoding": {"x": {"datum": 4.2}, "y": {"datum": 0.9}, "text": {"field": "label"}}}
      ]
    },
    {
      "width": 305, "height": 94,
      "view": {"stroke": null},
      "data": {"name": "events"},
      "encoding": {"y": {"field": "event", "type": "nominal", "sort": ["Water Supply", "LED Light ON"], "scale": {"type": "point", "padding": 0.8}, "axis": null}},
      "layer": [
        {"mark": {"type": "rule", "strokeWidth": 2.5, "yOffset": 3},
         "encoding": {"x": {"datum": 0.31, "scale": {"domain": [0, 1], "nice": false, "zero": false}, "axis": null}, "x2": {"datum": 0.4},
                      "color": {"field": "event", "type": "nominal", "scale": {"domain": ["Water Supply", "LED Light ON"], "range": ["#5fd02d", "#f3ad2f"]}, "legend": null}}},
        {"mark": {"type": "point", "shape": "triangle-right", "filled": true, "size": 80, "opacity": 1, "yOffset": 3},
         "encoding": {"x": {"datum": 0.41}, "color": {"field": "event", "type": "nominal", "legend": null}}},
        {"mark": {"type": "text", "align": "left", "baseline": "middle", "fontSize": 12.5, "fontWeight": "bold", "color": "#111", "dy": 3},
         "encoding": {"x": {"datum": 0.475}, "text": {"field": "event"}}}
      ]
    }
  ],
  "resolve": {
    "scale": {"stroke": "independent", "strokeDash": "independent"},
    "legend": {"stroke": "independent", "strokeDash": "independent"}
  },
  "config": {
    "font": "Liberation Serif",
    "view": {"stroke": "#262626", "strokeWidth": 1},
    "axis": {"labelFont": "Liberation Serif", "labelFontSize": 10.5, "labelFontWeight": "bold", "labelColor": "#111",
             "titleFont": "Liberation Serif", "titleFontSize": 11, "titleFontWeight": "bold", "titleColor": "#111",
             "domainColor": "#262626", "tickColor": "#262626", "tickSize": -3, "gridWidth": 0.7,
             "labelOverlap": false, "titlePadding": 1},
    "axisX": {"labelFlush": false, "labelPadding": 3},
    "axisY": {"labelPadding": 7, "titlePadding": 2},
    "title": {"font": "Liberation Serif", "fontSize": 11, "fontWeight": "bold", "color": "#111", "offset": -4},
    "legend": {"direction": "horizontal", "labelFont": "Liberation Serif", "labelFontSize": 7.5, "labelFontWeight": "bold", "labelColor": "#111",
               "symbolSize": 289, "symbolStrokeWidth": 1.5, "columnPadding": 4, "labelOffset": 2, "padding": 2, "fillColor": "white"},
    "text": {"font": "Liberation Serif"}
  }
}
